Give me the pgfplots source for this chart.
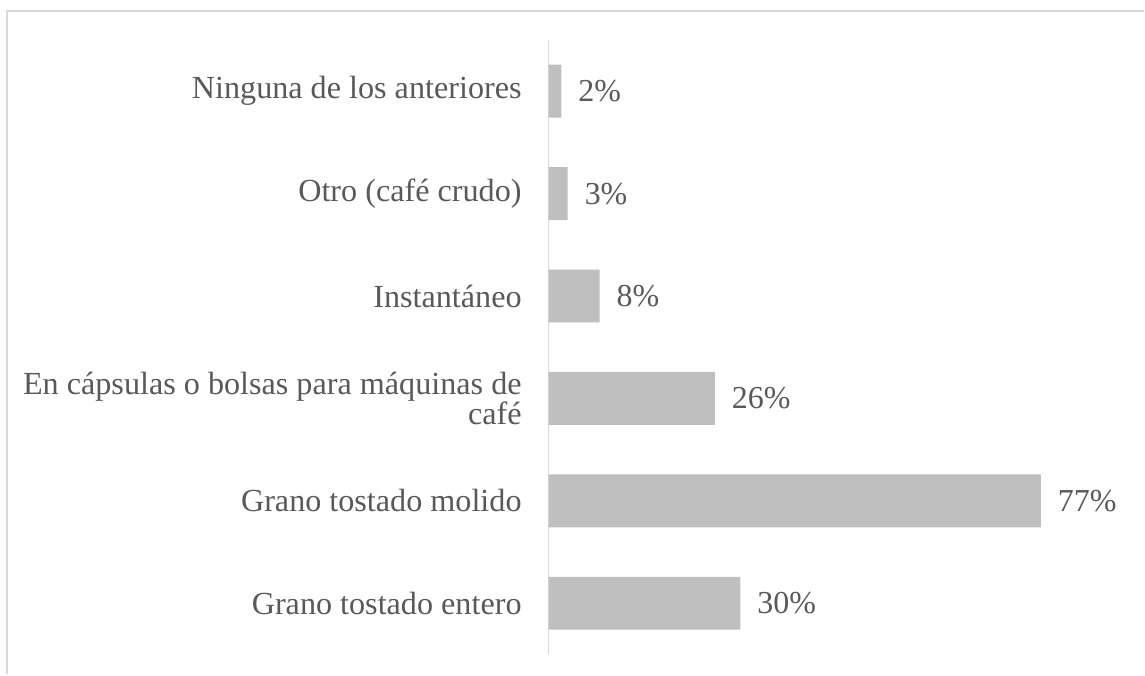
\documentclass[border=0pt]{standalone}
\usepackage{pgfplots}
\pgfplotsset{compat=1.18}
\usepackage{fontspec}
\setmainfont{Liberation Serif}
\definecolor{bargray}{HTML}{BFBFBF}
\definecolor{txtgray}{HTML}{595959}
\definecolor{linegray}{HTML}{D9D9D9}
\begin{document}
\begin{tikzpicture}[x=0.5pt,y=0.5pt]
% page size 1145 x 675 px (1px = 0.5pt)
\path (0,0) rectangle (1145,675);
% outer frame (top and left edges visible)
\draw[linegray, line width=1pt] (7,0) -- (7,664) -- (1145,664);
\begin{axis}[
    at={(549pt*0.5,20pt*0.5)}, anchor=south west,
    scale only axis,
    width=272pt, height=307.5pt,
    xbar, bar width=26.5pt,
    xmin=0, xmax=85,
    ymin=-0.5, ymax=5.5,
    axis line style={draw=none},
    tick style={draw=none},
    xtick=\empty,
    ytick={0,...,5},
    yticklabels={Grano tostado entero, Grano tostado molido,
        {En cápsulas o bolsas para máquinas de\\café}, Instantáneo,
        Otro (café crudo), Ninguna de los anteriores},
    yticklabel style={font=\fontsize{16.1}{15.2}\selectfont, text=txtgray,
        align=right, inner sep=0pt, xshift=-9pt},
    nodes near coords={\pgfmathprintnumber[assume math mode=true]{\pgfplotspointmeta}\%},
    nodes near coords style={font=\fontsize{16}{15}\selectfont, text=txtgray,
        anchor=west, xshift=5pt},
    point meta=x,
    clip=false,
]
\draw[linegray, line width=0.8pt] (axis cs:0,-0.5) -- (axis cs:0,5.5);
\addplot[fill=bargray, draw=none] coordinates {
    (30,0) (77,1) (26,2) (8,3) (3,4) (2,5)
};
\end{axis}
\end{tikzpicture}
\end{document}
